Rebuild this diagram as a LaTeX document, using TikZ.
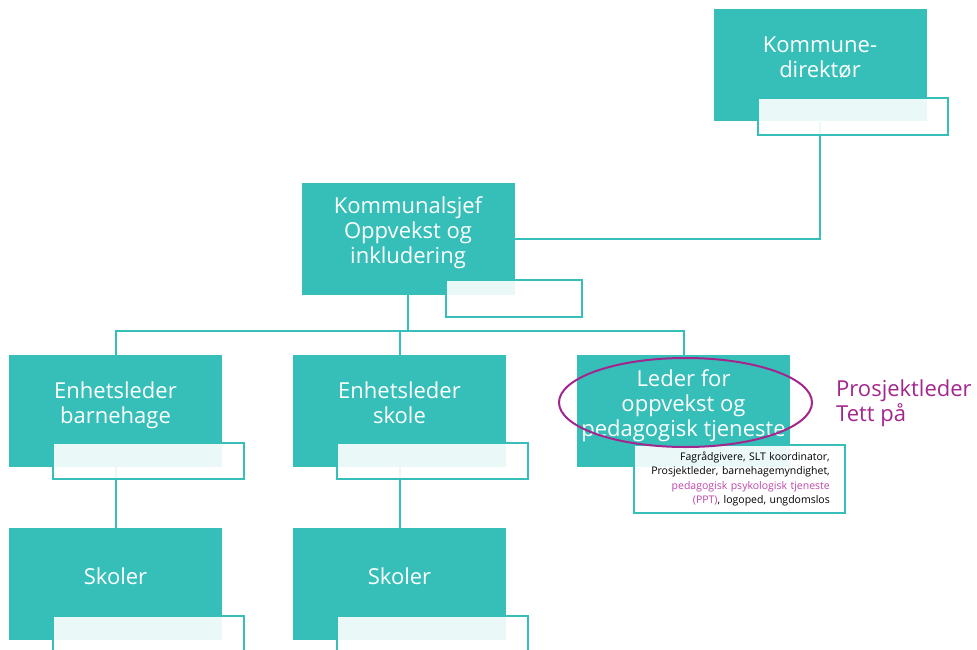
\documentclass[tikz,border=0pt]{standalone}
\usepackage{fontspec}
\setmainfont{Open Sans}
\usepackage{tikz}
\usetikzlibrary{shapes.geometric}
\usetikzlibrary{positioning}
\usetikzlibrary{calc}
\definecolor{oppteal}{RGB}{54,191,185}
\definecolor{tettlilla}{RGB}{163,38,142}
\definecolor{pptrosa}{RGB}{190,70,170}
\newcommand{\boxfont}{\fontsize{22}{25}\selectfont}
\newcommand{\tagfont}{\fontsize{10.5}{14.5}\selectfont}
\tikzset{
  % Common styles for the chart
  link/.style={draw=oppteal, line width=2pt},
  tag/.style={draw=oppteal, line width=2pt, fill=white, fill opacity=0.9, text opacity=1, inner sep=0pt, anchor=north west}
}

\begin{document}
\begin{tikzpicture}[x=1pt, y=-1pt, node distance=284pt]
    \useasboundingbox (0,0) rectangle (977,650);
    \clip (0,0) rectangle (977,650);
    % Define styles
    \tikzstyle{block} = [rectangle, fill=oppteal, text=white, font=\boxfont, align=center, inner sep=0pt, minimum width=213pt, minimum height=112pt, text depth=16pt]
    \tikzstyle{ring} = [draw=tettlilla, ellipse, line width=2pt, minimum width=253pt, minimum height=89pt]

    % Place nodes
    \node [block] (direktor) at (820,65.5) {Kommune-\\direktør};
    \node [block] (sjef) at (408,238.5) {Kommunalsjef\\Oppvekst og\\inkludering};
    \node [block] (barnehage) at (115.5,411) {Enhetsleder\\barnehage};
    \node [block, right of=barnehage] (skole) {Enhetsleder\\skole};
    \node [block, right of=skole] (leder) {Leder for\\oppvekst og\\pedagogisk tjeneste};
    \node [block, below of=barnehage, node distance=173pt] (skolerA) {Skoler};
    \node [block, below of=skole, node distance=173pt] (skolerB) {Skoler};
    \node [text=tettlilla, font=\boxfont, align=left, anchor=west, inner sep=0pt] (prosjekt) at (836,403) {Prosjektleder\\Tett på};

    % Draw edges
    \coordinate (bus) at ($(sjef.south)+(0,36)$);
    \path [link] (direktor) |- (sjef);
    \path [link] (sjef.south) -- (bus);
    \path [link] (barnehage.north) |- (bus) -| (leder.north);
    \path [link] (skole.north) -- (skole.north |- bus);
    \path [link] (barnehage) -- (skolerA);
    \path [link] (skole) -- (skolerB);

    % Tags on the boxes
    \node [tag, minimum width=190pt, minimum height=37pt] (direktorTag) at ($(direktor.south west)+(44,-25)$) {};
    \node [tag, minimum width=136pt, minimum height=37pt] (sjefTag) at ($(sjef.south west)+(144,-16)$) {};
    \node [tag, minimum width=191pt, minimum height=36pt] (barnehageTag) at ($(barnehage.south west)+(43,-25)$) {};
    \node [tag, minimum width=191pt, minimum height=36pt] (skoleTag) at ($(skole.south west)+(43,-25)$) {};
    \node [tag, minimum width=211pt, minimum height=68pt, text width=181pt, align=right, font=\tagfont] (lederTag) at ($(leder.south west)+(56,-23)$) {Fagrådgivere, SLT koordinator,\\Prosjektleder, barnehagemyndighet,\\\textcolor{pptrosa}{pedagogisk psykologisk tjeneste}\\\textcolor{pptrosa}{(PPT)}, logoped, ungdomslos};
    \node [tag, minimum width=191pt, minimum height=60pt] (skolerATag) at ($(skolerA.south west)+(43,-25)$) {};
    \node [tag, minimum width=191pt, minimum height=60pt] (skolerBTag) at ($(skolerB.south west)+(43,-25)$) {};

    % Circle round the leader
    \node [ring] (tettRing) at ($(leder)+(2,-8.5)$) {};
\end{tikzpicture}
\end{document}
